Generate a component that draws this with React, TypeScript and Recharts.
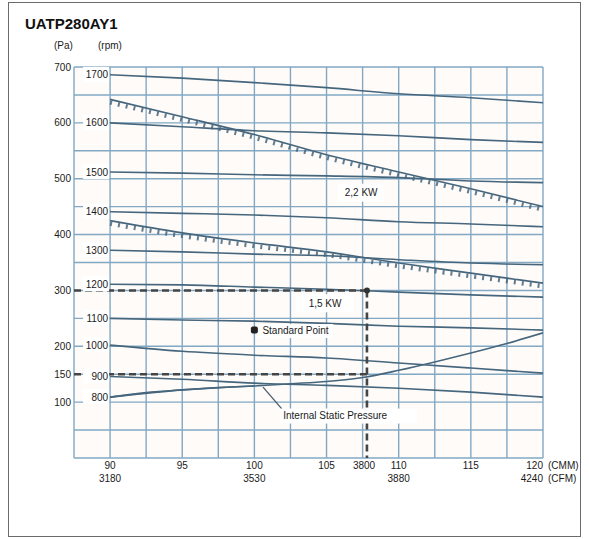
import React from "react";
import {
  ComposedChart,
  Line,
  XAxis,
  YAxis,
  CartesianGrid,
  ReferenceLine,
  ReferenceDot,
} from "recharts";

const FONT = "'Liberation Sans', Arial, Helvetica, sans-serif";
const GRID = "#82a8c4";
const CURVE = "#46667d";
const DASH = "#454545";

// air flow (CMM) where the curves were read
const cmmPoints = [90, 95, 100, 105, 110, 115, 120];

// fan speed curves, static pressure in Pa
const rpm1700 = [686, 680, 672, 663, 652, 645, 636];
const rpm1600 = [600, 593, 586, 582, 577, 570, 565];
const rpm1500 = [512, 510, 507, 505, 502, 496, 493];
const rpm1400 = [441, 438, 435, 430, 423, 419, 414];
const rpm1300 = [372, 369, 365, 362, 355, 349, 346];
const rpm1200 = [311, 310, 306, 302, 297, 292, 288];
const rpm1100 = [250, 247, 245, 241, 236, 233, 229];
const rpm1000 = [202, 191, 184, 179, 170, 161, 152];
const rpm900 = [146, 141, 134, 130, 125, 118, 109];
const rpm800 = [109, 122, 129];

// motor power limits
const kw22 = [642, 611, 579, 543, 512, 482, 450];
const kw15 = [425, 403, 385, 369, 349, 331, 313];

// internal static pressure
const ispCmm = [90, 92.5, 95, 97.5, 100, 102.5, 105, 107.5, 110, 112.5, 115, 117.5, 120];
const ispPa = [109, 117, 122, 126, 129, 133, 137, 144, 157, 172, 188, 205, 224];

const rpmCurves = [
  { rpm: "1700", values: rpm1700 },
  { rpm: "1600", values: rpm1600 },
  { rpm: "1500", values: rpm1500 },
  { rpm: "1400", values: rpm1400 },
  { rpm: "1300", values: rpm1300 },
  { rpm: "1200", values: rpm1200 },
  { rpm: "1100", values: rpm1100 },
  { rpm: "1000", values: rpm1000 },
  { rpm: "900", values: rpm900 },
  { rpm: "800", values: rpm800 },
];

const paTicks = [100, 150, 200, 300, 400, 500, 600, 700];
const gridPa = [0, 50, 100, 150, 200, 250, 300, 350, 400, 450, 500, 550, 600, 650, 700];
const gridCmm = [87.5, 90, 92.5, 95, 97.5, 100, 102.5, 105, 107.5, 110, 112.5, 115, 117.5, 120];

const xTicks = [90, 95, 100, 105, 107.6, 110, 115, 120];
const cmmLabels = ["90", "95", "100", "105", "3800", "110", "115", "120"];
const cfmLabels = ["3180", "", "3530", "", "", "3880", "", "4240"];

const standardPoint = { cmm: 100, pa: 229 };
const ratedPoint = { cmm: 107.8, pa: 300 };
const ispPoint = { cmm: 107.8, pa: 150 };

const notes = [
  { text: "2,2 KW", cmm: 107.4, pa: 475, w: 46 },
  { text: "1,5 KW", cmm: 104.9, pa: 277, w: 58 },
];
const ispNote = { text: "Internal Static Pressure", cmm: 102, pa: 76 };
const ispArrow = [
  { x: 101.9, y: 88 },
  { x: 100.6, y: 127 },
];

const toPoints = (xs: number[], ys: number[]) =>
  ys.map((pa, i) => ({ cmm: xs[i], pa }));

function CmmTick(props: any) {
  const { x, y, payload } = props;
  const i = xTicks.indexOf(payload.value);
  const last = i === xTicks.length - 1;
  const style = { fontSize: 10, fill: "#1a1a1a", fontFamily: FONT };
  return (
    <g>
      <text x={x} y={y + 11} textAnchor={last ? "end" : "middle"} {...style}>
        {cmmLabels[i]}
      </text>
      {cfmLabels[i] && (
        <text x={x} y={y + 24} textAnchor={last ? "end" : "middle"} {...style}>
          {cfmLabels[i]}
        </text>
      )}
      {last && (
        <>
          <text x={x + 5} y={y + 11} {...style}>(CMM)</text>
          <text x={x + 5} y={y + 24} {...style}>(CFM)</text>
        </>
      )}
    </g>
  );
}

const rpmLabel = (text: string) => (p: any) => (
  <g>
    <rect x={p.cx - 27} y={p.cy - 8} width={26} height={15} fill="#fff" />
    <text
      x={p.cx - 2}
      y={p.cy + 3.5}
      textAnchor="end"
      fontSize={10}
      fontFamily={FONT}
      fill="#1a1a1a"
    >
      {text}
    </text>
  </g>
);

const centerNote = (text: string, w: number) => (p: any) => (
  <g>
    <rect x={p.cx - w / 2} y={p.cy - 9} width={w} height={18} fill="#fff" />
    <text x={p.cx} y={p.cy + 3.5} textAnchor="middle" fontSize={10} fontFamily={FONT} fill="#1a1a1a">
      {text}
    </text>
  </g>
);

const ispLabel = (p: any) => (
  <g>
    <rect x={p.cx - 3} y={p.cy - 7} width={137} height={15} fill="#fff" />
    <text x={p.cx} y={p.cy + 3.5} fontSize={10} fontFamily={FONT} fill="#1a1a1a">
      {ispNote.text}
    </text>
  </g>
);

const standardShape = (p: any) => (
  <g>
    <rect x={p.cx + 3} y={p.cy - 6} width={76} height={14} fill="#fff" />
    <rect x={p.cx - 3.5} y={p.cy - 3.5} width={7} height={7} rx={2} fill="#222" />
    <text x={p.cx + 8} y={p.cy + 3.5} fontSize={10} fontFamily={FONT} fill="#1a1a1a">
      Standard Point
    </text>
  </g>
);

export default function App() {
  return (
    <div
      style={{
        position: "fixed",
        left: 8,
        top: 2,
        width: 573,
        height: 535,
        border: "1px solid #6b6b6b",
        boxSizing: "border-box",
        background: "#fff",
      }}
    >
      <svg width={571} height={60} style={{ position: "absolute", left: 0, top: 0 }}>
        <text x={16} y={26} fontSize={15} fontWeight={700} fontFamily={FONT} fill="#111">
          UATP280AY1
        </text>
        <text x={45} y={46} fontSize={10} fontFamily={FONT} fill="#1a1a1a">(Pa)</text>
        <text x={89} y={46} fontSize={10} fontFamily={FONT} fill="#1a1a1a">(rpm)</text>
      </svg>
      <div style={{ position: "absolute", left: 0, top: 0 }}>
        <ComposedChart
          width={571}
          height={533}
          margin={{ top: 64, right: 37, bottom: 48, left: 35 }}
        >
          <CartesianGrid
            stroke={GRID}
            strokeWidth={1.4}
            fill="#fefbf9"
            horizontalValues={gridPa}
            verticalValues={gridCmm}
          />
          <XAxis
            dataKey="cmm"
            type="number"
            domain={[87.5, 120]}
            ticks={xTicks}
            interval={0}
            allowDataOverflow
            axisLine={false}
            tickLine={false}
            tickSize={0}
            tickMargin={0}
            height={30}
            tick={<CmmTick />}
          />
          <YAxis
            type="number"
            domain={[0, 700]}
            ticks={paTicks}
            interval={0}
            allowDataOverflow
            axisLine={false}
            tickLine={false}
            tickSize={0}
            tickMargin={3}
            width={30}
            tick={{ fontSize: 10, fill: "#1a1a1a", fontFamily: FONT }}
          />

          {rpmCurves.map((c) => (
            <Line
              key={c.rpm}
              data={toPoints(cmmPoints, c.values)}
              dataKey="pa"
              type="monotone"
              stroke={CURVE}
              strokeWidth={1.6}
              dot={false}
              isAnimationActive={false}
            />
          ))}
          <Line
            data={toPoints(ispCmm, ispPa)}
            dataKey="pa"
            type="monotone"
            stroke={CURVE}
            strokeWidth={1.6}
            dot={false}
            isAnimationActive={false}
          />
          {[kw22, kw15].map((kw, k) => (
            <Line
              key={"kw" + k}
              data={toPoints(cmmPoints, kw)}
              dataKey="pa"
              type="monotone"
              stroke={CURVE}
              strokeWidth={1.6}
              dot={false}
              isAnimationActive={false}
            />
          ))}
          {[kw22, kw15].map((kw, k) => (
            <Line
              key={"hatch" + k}
              data={toPoints(cmmPoints, kw)}
              dataKey="pa"
              type="monotone"
              stroke={CURVE}
              strokeWidth={4.5}
              strokeDasharray="2 6"
              strokeOpacity={0.85}
              style={{ transform: "translate(0px, 3px)" }}
              dot={false}
              isAnimationActive={false}
            />
          ))}

          <ReferenceLine
            segment={[{ x: 87.5, y: ratedPoint.pa }, { x: ratedPoint.cmm, y: ratedPoint.pa }]}
            stroke={DASH}
            strokeWidth={2.6}
            strokeDasharray="7 4"
          />
          <ReferenceLine
            segment={[{ x: 87.5, y: ispPoint.pa }, { x: ispPoint.cmm, y: ispPoint.pa }]}
            stroke={DASH}
            strokeWidth={2.6}
            strokeDasharray="7 4"
          />
          <ReferenceLine
            segment={[{ x: ratedPoint.cmm, y: ratedPoint.pa }, { x: ratedPoint.cmm, y: 0 }]}
            stroke={DASH}
            strokeWidth={2.6}
            strokeDasharray="7 4"
          />
          <ReferenceLine segment={ispArrow} stroke="#4a5c6a" strokeWidth={1.3} />
          <ReferenceDot x={ratedPoint.cmm} y={ratedPoint.pa} r={3} fill="#333" stroke="none" />

          {rpmCurves.map((c) => (
            <ReferenceDot
              key={"lbl" + c.rpm}
              x={cmmPoints[0]}
              y={c.values[0]}
              r={1}
              shape={rpmLabel(c.rpm)}
            />
          ))}
          {notes.map((n) => (
            <ReferenceDot key={n.text} x={n.cmm} y={n.pa} r={1} shape={centerNote(n.text, n.w)} />
          ))}
          <ReferenceDot x={ispNote.cmm} y={ispNote.pa} r={1} shape={ispLabel} />
          <ReferenceDot x={standardPoint.cmm} y={standardPoint.pa} r={1} shape={standardShape} />
        </ComposedChart>
      </div>
    </div>
  );
}
